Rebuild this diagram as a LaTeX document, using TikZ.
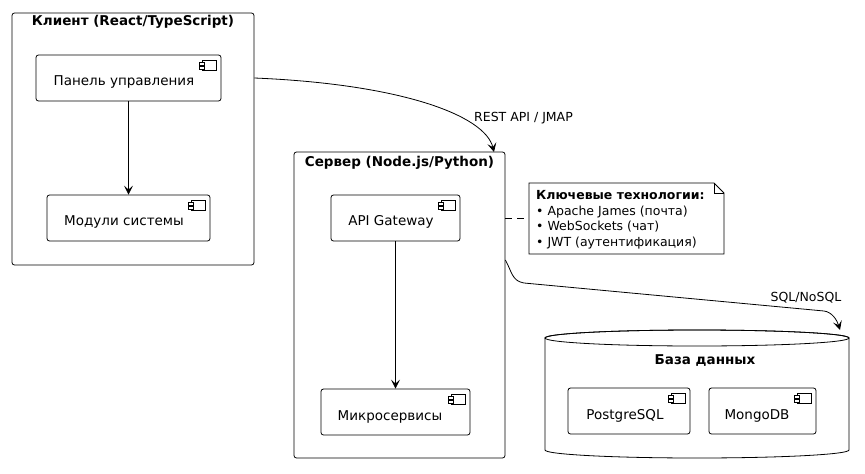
\documentclass[tikz,border=0pt]{standalone}
\usepackage{fontspec}
\setmainfont{DejaVu Sans}
\usetikzlibrary{arrows.meta}
\begin{document}
\begin{tikzpicture}[x=1pt,y=-1pt,
  pkg/.style={draw=black,line width=0.8pt,rounded corners=2.5pt,inner sep=0pt},
  comp/.style={draw=black,line width=0.8pt,rounded corners=2.5pt,inner sep=0pt,fill=white},
  ctext/.style={font=\fontsize{13.5}{16}\selectfont,inner sep=0pt},
  ttl/.style={font=\bfseries\fontsize{13.5}{16}\selectfont,inner sep=0pt},
  ntext/.style={font=\fontsize{12.5}{15.8}\selectfont,inner sep=0pt,align=left},
  elab/.style={font=\fontsize{12.5}{15}\selectfont,inner sep=0pt},
  arr/.style={line width=0.8pt,-{Stealth[length=9pt,width=9pt,inset=4pt]}},
  icon/.style={line width=0.6pt,fill=white}
]
\useasboundingbox (0,0) rectangle (865,474);
\fill[white] (0,0) rectangle (865,474);
\newcommand{\compicon}[1]{%
  \draw[icon] ([shift={(-19.5,6)}]#1.north east) rectangle +(14.5,10);
  \draw[icon] ([shift={(-22,8)}]#1.north east) rectangle +(5,2.2);
  \draw[icon] ([shift={(-22,12)}]#1.north east) rectangle +(5,2.2);
}

% Client package
\node[pkg,minimum width=242pt,minimum height=252pt] (cli) at (133,139) {};
\node[ttl] (clit) at (133,21.5) {Клиент (React/TypeScript)};
\node[comp,minimum width=185pt,minimum height=46pt] (pan) at (128.5,78) {};
\node[ctext] (pant) at (124,82) {Панель управления};
\compicon{pan}
\node[comp,minimum width=163pt,minimum height=46pt] (mod) at (128.5,218) {};
\node[ctext] (modt) at (124,222) {Модули системы};
\compicon{mod}
\draw[arr] (pan.south) -- (mod.north);

% Server package
\node[pkg,minimum width=211pt,minimum height=306pt] (srv) at (399.5,305) {};
\node[ttl] (srvt) at (399.5,163) {Сервер (Node.js/Python)};
\node[comp,minimum width=129pt,minimum height=46pt] (api) at (395.5,218) {};
\node[ctext] (apit) at (391,222) {API Gateway};
\compicon{api}
\node[comp,minimum width=149pt,minimum height=46pt] (mic) at (395.5,412) {};
\node[ctext] (mict) at (390,417) {Микросервисы};
\compicon{mic}
\draw[arr] (api.south) -- (mic.north);

% Note
\draw[line width=0.8pt,fill=white] (529,183) -- (714,183) -- (724,193) -- (724,254) -- (529,254) -- cycle;
\draw[line width=0.8pt] (714,183) -- (714,193) -- (724,193);
\node[ntext,anchor=north west] (note) at (536,190) {\textbf{Ключевые технологии:}\\• Apache James (почта)\\• WebSockets (чат)\\• JWT (аутентификация)};
\coordinate (nL) at (529,218);
\draw[line width=0.8pt,dash pattern=on 7pt off 5pt] (srv.east |- nL) -- (nL);

% Database
\draw[line width=0.8pt,fill=white] (545,338) arc[start angle=180,end angle=360,x radius=152,y radius=8] -- (849,450) arc[start angle=0,end angle=180,x radius=152,y radius=8] -- cycle;
\draw[line width=0.8pt] (697,338) ellipse[x radius=152,y radius=8];
\node[ttl] (dbt) at (705,361) {База данных};
\node[comp,minimum width=122pt,minimum height=46pt] (pg) at (629,411) {};
\node[ctext] (pgt) at (625,416) {PostgreSQL};
\compicon{pg}
\node[comp,minimum width=107pt,minimum height=46pt] (mg) at (762.5,411) {};
\node[ctext] (mgt) at (757,416) {MongoDB};
\compicon{mg}
\coordinate (dbtop) at (840,330);

% Edges
\draw[arr] (cli.east |- 0,78) .. controls (400,84) and (485,115) .. (494,152);
\node[elab] (l1) at (523.5,118.5) {REST API / JMAP};
\draw[arr] (srv.east |- 0,260) .. controls (512,272) and (512,281) .. (524,283) -- (824,311) .. controls (832,312) and (837,320) .. (dbtop);
\node[elab] (l2) at (806,298) {SQL/NoSQL};
\end{tikzpicture}
\end{document}
